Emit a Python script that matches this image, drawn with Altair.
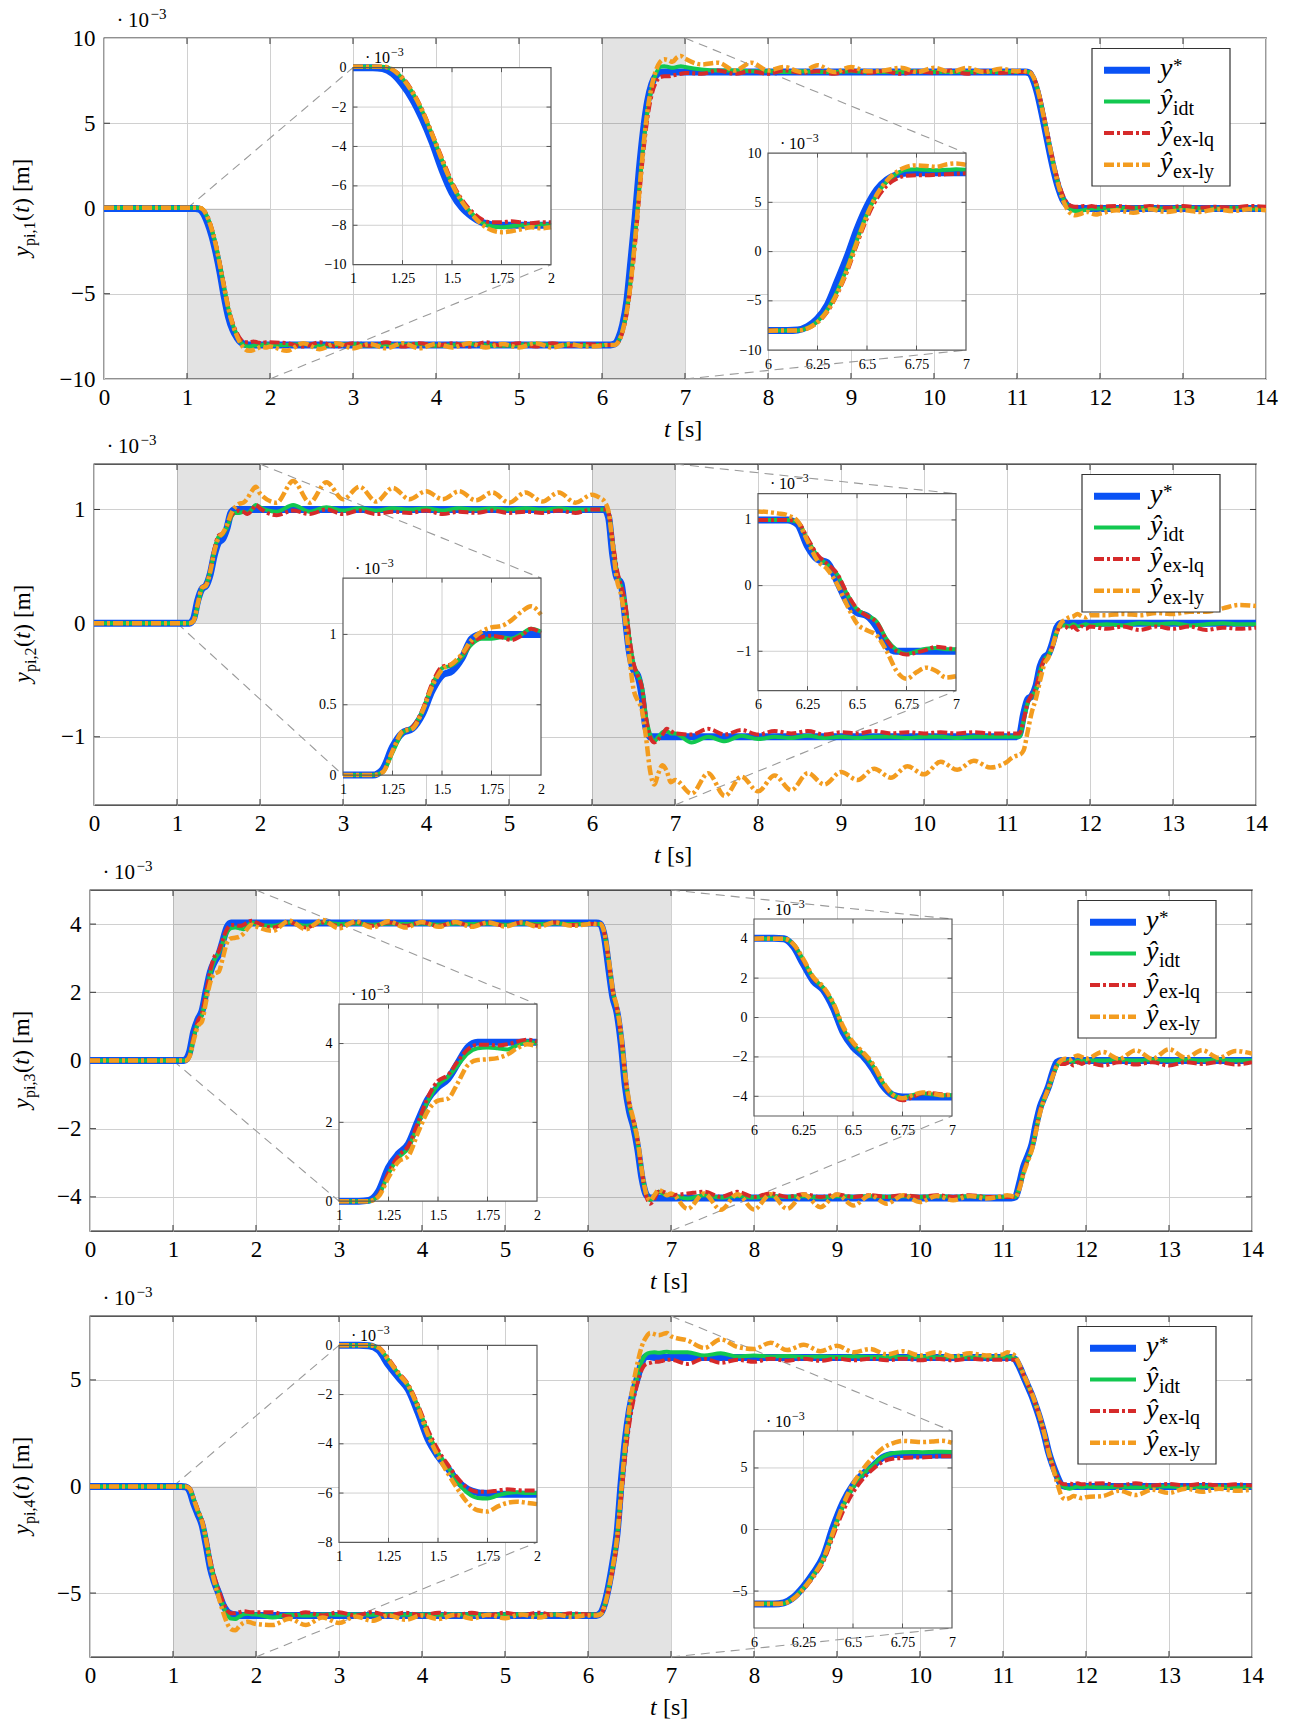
import altair as alt
import pandas as pd

W, H = 1162, 341
IW, IH = 198, 197
FONT = "Liberation Serif"
GRID = "#d0d0d0"
LABEL_EXPR = "format(datum.value, '~g')"
TICK_MAIN = 6.0   # inward tick length in px
TICK_INSET = 4.5

# ---------------- time grid (s) ----------------
T = [0.0, 0.5,
     1.0, 1.05, 1.1, 1.15, 1.2, 1.25, 1.3, 1.35, 1.4, 1.45, 1.5, 1.55, 1.6, 1.65, 1.7, 1.75, 1.8, 1.85, 1.9, 1.95, 2.0,
     2.2, 2.4, 2.6, 2.8, 3.0, 3.2, 3.4, 3.6, 3.8, 4.0, 4.2, 4.4, 4.6, 4.8, 5.0, 5.2, 5.4, 5.6, 5.8,
     6.0, 6.05, 6.1, 6.15, 6.2, 6.25, 6.3, 6.35, 6.4, 6.45, 6.5, 6.55, 6.6, 6.65, 6.7, 6.75, 6.8, 6.85, 6.9, 6.95, 7.0,
     7.2, 7.4, 7.6, 7.8, 8.0, 8.2, 8.4, 8.6, 8.8, 9.0, 9.2, 9.4, 9.6, 9.8, 10.0, 10.2, 10.4, 10.6, 10.8,
     11.0, 11.05, 11.1, 11.15, 11.2, 11.25, 11.3, 11.35, 11.4, 11.45, 11.5, 11.55, 11.6, 11.65, 11.7, 11.75, 11.8, 11.85, 11.9, 11.95, 12.0,
     12.2, 12.4, 12.6, 12.8, 13.0, 13.2, 13.4, 13.6, 13.8, 14.0]

# ---------------- panel 1 (x 1e-3) ----------------
P1_REF = ([0, 0] +
          [0, 0, 0, -0.05, -0.3, -0.85, -1.6, -2.6, -3.8, -5.2, -6.35, -7.1, -7.55, -7.85, -7.97, -8, -8, -8, -8, -8, -8] +
          [-8, -8, -8, -8, -8, -8, -8, -8, -8, -8, -8, -8, -8, -8, -8, -8, -8, -8, -8] +
          [-8, -8, -8, -7.95, -7.6, -6.8, -5.4, -3.0, -0.5, 2.3, 4.6, 6.3, 7.3, 7.8, 7.97, 8, 8, 8, 8, 8, 8] +
          [8, 8, 8, 8, 8, 8, 8, 8, 8, 8, 8, 8, 8, 8, 8, 8, 8, 8, 8] +
          [8, 8, 8, 7.95, 7.5, 6.7, 5.6, 4.4, 3.2, 2.1, 1.2, 0.55, 0.2, 0.05, 0, 0, 0, 0, 0, 0, 0] +
          [0, 0, 0, 0, 0, 0, 0, 0, 0, 0])
P1_IDT = ([0.05, 0.05] +
          [0.05, 0.05, 0.05, 0.05, -0.1, -0.55, -1.25, -2.2, -3.4, -4.7, -5.9, -6.8, -7.4, -7.85, -8.05, -8.1, -8.05, -8.0, -8.0, -7.95, -8.0] +
          [-8.0, -7.95, -8.05, -8.0, -7.95, -8.05, -8.0, -8.0, -7.95, -8.05, -8.0, -7.95, -8.0, -8.05, -8.0, -7.95, -8.0, -8.0, -8.0] +
          [-8, -8, -8, -8, -7.75, -7.1, -5.9, -4.0, -1.6, 1.2, 3.8, 5.8, 7.1, 7.9, 8.3, 8.35, 8.3, 8.25, 8.3, 8.35, 8.3] +
          [8.15, 8.1, 8.1, 8.05, 8.05, 8.0, 8.05, 8.0, 8.0, 8.05, 8.0, 8.0, 8.0, 8.05, 8.0, 8.0, 8.0, 8.0, 8.0] +
          [8, 8, 8, 8, 7.65, 6.95, 5.9, 4.7, 3.5, 2.35, 1.4, 0.65, 0.2, -0.05, -0.15, -0.15, -0.1, -0.05, 0, 0, 0] +
          [0, 0.05, 0, 0, 0.05, 0, 0, 0.05, 0, 0])
P1_LQ = ([0.05, 0.05] +
         [0.05, 0.05, 0.05, 0.05, -0.1, -0.5, -1.2, -2.15, -3.35, -4.6, -5.8, -6.7, -7.3, -7.7, -7.85, -7.85, -7.8, -7.85, -7.9, -7.85, -7.85] +
         [-7.9, -8.1, -7.85, -8.1, -7.9, -8.05, -7.85, -8.1, -7.9, -8.05, -7.9, -8.1, -7.85, -8.05, -7.9, -8.1, -7.9, -8.05, -7.95] +
         [-8, -8, -8, -8, -7.8, -7.2, -6.1, -4.3, -2.0, 0.8, 3.4, 5.4, 6.7, 7.4, 7.7, 7.75, 7.75, 7.8, 7.85, 7.9, 7.95] +
         [7.9, 8.1, 7.9, 8.05, 7.9, 8.1, 7.95, 8.05, 7.9, 8.1, 7.95, 8.05, 7.9, 8.05, 7.95, 8.1, 7.9, 8.05, 7.95] +
         [8, 8, 8, 8, 7.7, 7.0, 6.0, 4.8, 3.6, 2.45, 1.5, 0.8, 0.35, 0.15, 0.1, 0.1, 0.15, 0.1, 0.15, 0.1, 0.1] +
         [0.15, 0.05, 0.15, 0.05, 0.15, 0.05, 0.1, 0.05, 0.15, 0.1])
P1_LY = ([0.05, 0.05] +
         [0.05, 0.05, 0.05, 0.05, -0.1, -0.55, -1.25, -2.2, -3.4, -4.7, -5.9, -6.8, -7.45, -7.95, -8.25, -8.35, -8.3, -8.2, -8.1, -8.15, -8.1] +
         [-8.35, -7.9, -8.25, -7.9, -8.2, -7.95, -8.2, -7.9, -8.2, -7.95, -8.15, -7.9, -8.15, -7.95, -8.15, -7.9, -8.15, -7.95, -8.1] +
         [-8.05, -8, -8, -8, -7.8, -7.15, -6.0, -4.2, -1.8, 1.0, 3.7, 5.8, 7.2, 8.1, 8.6, 8.75, 8.7, 8.6, 8.85, 8.95, 8.8] +
         [8.45, 8.55, 8.1, 8.55, 8.1, 8.3, 8.0, 8.4, 8.0, 8.3, 8.05, 8.1, 8.25, 8.0, 8.25, 8.0, 8.25, 8.0, 8.2] +
         [8.05, 8.1, 8.05, 8.0, 7.7, 6.95, 5.9, 4.7, 3.5, 2.35, 1.35, 0.55, 0.0, -0.3, -0.4, -0.35, -0.25, -0.2, -0.3, -0.35, -0.3] +
         [-0.1, -0.25, -0.05, -0.2, -0.1, -0.2, -0.05, -0.15, -0.05, -0.1])

# ---------------- panel 2 ----------------
P2_REF = ([0, 0] +
          [0, 0, 0, 0, 0.04, 0.2, 0.3, 0.33, 0.43, 0.6, 0.71, 0.74, 0.83, 0.97, 1.0, 1.0, 1.0, 1.0, 1.0, 1.0, 1.0] +
          [1, 1, 1, 1, 1, 1, 1, 1, 1, 1, 1, 1, 1, 1, 1, 1, 1, 1, 1] +
          [1, 1, 1, 1, 0.93, 0.6, 0.4, 0.35, 0.06, -0.25, -0.41, -0.46, -0.63, -0.92, -1, -1, -1, -1, -1, -1, -1] +
          [-1, -1, -1, -1, -1, -1, -1, -1, -1, -1, -1, -1, -1, -1, -1, -1, -1, -1, -1] +
          [-1, -1, -1, -0.98, -0.8, -0.67, -0.64, -0.55, -0.38, -0.3, -0.27, -0.17, -0.04, 0, 0, 0, 0, 0, 0, 0, 0] +
          [0, 0, 0, 0, 0, 0, 0, 0, 0, 0])
P2_IDT = ([0, 0] +
          [0, 0, 0, 0, 0.02, 0.16, 0.3, 0.34, 0.45, 0.64, 0.76, 0.78, 0.84, 0.93, 0.97, 0.97, 0.98, 0.97, 1.0, 1.04, 1.02] +
          [0.98, 1.04, 0.98, 1.02, 0.99, 1.01, 0.99, 1.01, 1.0, 1.01, 0.99, 1.01, 1.0, 1.01, 1.0, 1.01, 1.0, 1.01, 1.0] +
          [1.0, 1.0, 1.0, 1.0, 0.97, 0.7, 0.45, 0.32, 0.17, -0.13, -0.36, -0.45, -0.55, -0.82, -0.98, -1.04, -1.0, -0.96, -0.95, -0.97, -0.97] +
          [-1.05, -1.0, -1.04, -0.99, -1.02, -1.0, -1.01, -0.99, -1.01, -1.0, -1.01, -1.0, -1.0, -1.01, -1.0, -1.0, -1.01, -1.0, -1.0] +
          [-1.0, -1.0, -1.0, -1.0, -0.86, -0.7, -0.64, -0.58, -0.42, -0.32, -0.28, -0.2, -0.07, -0.02, -0.02, -0.03, -0.01, -0.03, -0.02, -0.01, -0.02] +
          [-0.01, -0.02, 0.0, -0.01, 0.0, -0.02, -0.01, 0.0, -0.01, -0.01])
P2_LQ = ([0, 0] +
         [0, 0, 0, 0, 0.02, 0.17, 0.31, 0.34, 0.46, 0.65, 0.77, 0.79, 0.85, 0.94, 0.98, 0.99, 0.98, 0.96, 0.99, 1.04, 1.01] +
         [0.95, 0.99, 0.96, 1.0, 0.96, 0.99, 0.96, 0.98, 0.97, 0.99, 0.96, 0.98, 0.97, 0.99, 0.97, 0.98, 0.97, 0.99, 0.97] +
         [1.0, 1.0, 1.0, 1.0, 0.97, 0.72, 0.47, 0.33, 0.18, -0.12, -0.35, -0.46, -0.56, -0.83, -1.0, -1.05, -1.02, -0.98, -0.93, -0.95, -0.97] +
         [-0.98, -0.93, -0.98, -0.94, -0.98, -0.95, -0.97, -0.95, -0.98, -0.96, -0.97, -0.95, -0.97, -0.96, -0.97, -0.96, -0.97, -0.96, -0.97] +
         [-0.97, -0.97, -0.97, -0.97, -0.85, -0.7, -0.63, -0.57, -0.42, -0.32, -0.28, -0.2, -0.08, -0.03, -0.03, -0.05, -0.03, -0.06, -0.03, -0.05, -0.03] +
         [-0.05, -0.03, -0.06, -0.03, -0.05, -0.03, -0.06, -0.04, -0.05, -0.04])
P2_LY = ([0, 0] +
         [0, 0, 0, 0, 0.02, 0.17, 0.31, 0.33, 0.45, 0.63, 0.75, 0.79, 0.86, 0.96, 1.02, 1.05, 1.06, 1.1, 1.16, 1.2, 1.14] +
         [1.06, 1.25, 1.06, 1.24, 1.09, 1.2, 1.07, 1.19, 1.09, 1.16, 1.09, 1.16, 1.08, 1.15, 1.06, 1.15, 1.07, 1.15, 1.06] +
         [1.13, 1.12, 1.1, 1.07, 0.98, 0.68, 0.38, 0.25, 0.02, -0.3, -0.58, -0.68, -0.76, -1.0, -1.3, -1.42, -1.32, -1.25, -1.3, -1.4, -1.38] +
         [-1.5, -1.32, -1.52, -1.35, -1.48, -1.34, -1.47, -1.32, -1.42, -1.31, -1.38, -1.28, -1.36, -1.26, -1.33, -1.22, -1.29, -1.21, -1.27] +
         [-1.22, -1.19, -1.17, -1.16, -1.12, -0.95, -0.78, -0.66, -0.5, -0.36, -0.3, -0.2, -0.08, 0.0, 0.03, 0.05, 0.06, 0.08, 0.06, 0.05, 0.07] +
         [0.07, 0.08, 0.07, 0.09, 0.08, 0.1, 0.1, 0.13, 0.16, 0.15])

# ---------------- panel 3 ----------------
P3_REF = ([0, 0] +
          [0, 0, 0, 0.02, 0.25, 0.85, 1.2, 1.45, 2.05, 2.6, 2.9, 3.1, 3.5, 3.9, 4.03, 4.03, 4.03, 4.03, 4.03, 4.03, 4.03] +
          [4.03, 4.03, 4.03, 4.03, 4.03, 4.03, 4.03, 4.03, 4.03, 4.03, 4.03, 4.03, 4.03, 4.03, 4.03, 4.03, 4.03, 4.03, 4.03] +
          [4.03, 4.03, 4.03, 4.0, 3.6, 2.7, 1.85, 1.4, 0.5, -0.75, -1.5, -1.95, -2.6, -3.45, -3.93, -4.03, -4.03, -4.03, -4.03, -4.03, -4.03] +
          [-4.03, -4.03, -4.03, -4.03, -4.03, -4.03, -4.03, -4.03, -4.03, -4.03, -4.03, -4.03, -4.03, -4.03, -4.03, -4.03, -4.03, -4.03, -4.03] +
          [-4.03, -4.03, -4.03, -4.0, -3.6, -3.1, -2.8, -2.45, -1.85, -1.35, -1.05, -0.75, -0.35, -0.05, 0, 0, 0, 0, 0, 0, 0] +
          [0, 0, 0, 0, 0, 0, 0, 0, 0, 0])
P3_IDT = ([0, 0] +
          [0, 0, 0, 0, 0.15, 0.7, 1.1, 1.35, 1.95, 2.55, 2.95, 3.15, 3.45, 3.75, 3.88, 3.9, 3.88, 3.85, 3.95, 4.05, 4.0] +
          [3.95, 4.05, 3.95, 4.05, 4.0, 4.02, 3.98, 4.02, 4.0, 4.02, 3.98, 4.02, 4.0, 4.02, 3.98, 4.02, 4.0, 4.02, 4.0] +
          [4.0, 4.0, 4.0, 4.0, 3.7, 2.9, 2.0, 1.5, 0.7, -0.55, -1.35, -1.85, -2.45, -3.3, -3.9, -4.1, -3.95, -3.85, -3.9, -3.95, -3.95] +
          [-4.05, -3.95, -4.02, -3.97, -4.02, -3.97, -4.0, -3.98, -4.02, -3.98, -4.0, -3.98, -4.0, -3.98, -4.0, -3.98, -4.0, -3.98, -4.0] +
          [-4.0, -4.0, -4.0, -4.0, -3.7, -3.25, -2.9, -2.55, -2.0, -1.45, -1.1, -0.8, -0.45, -0.15, -0.05, -0.05, 0.0, -0.05, 0.0, -0.02, 0.0] +
          [0, 0.02, 0, 0.02, 0, 0.02, 0, 0.02, 0, 0])
P3_LQ = ([0, 0] +
         [0, 0, 0, 0, 0.15, 0.72, 1.15, 1.4, 2.0, 2.65, 3.05, 3.2, 3.55, 3.85, 3.97, 3.97, 3.95, 3.98, 4.05, 4.1, 4.05] +
         [3.9, 4.05, 3.9, 4.05, 3.95, 4.05, 3.95, 4.05, 3.95, 4.05, 3.95, 4.05, 3.95, 4.05, 3.95, 4.05, 3.95, 4.05, 3.97] +
         [4.0, 4.0, 4.0, 4.0, 3.7, 2.9, 2.0, 1.5, 0.7, -0.5, -1.3, -1.8, -2.4, -3.3, -3.95, -4.2, -4.05, -3.85, -3.85, -3.9, -3.95] +
         [-3.9, -3.85, -4.0, -3.85, -4.0, -3.9, -4.0, -3.92, -4.0, -3.93, -4.0, -3.95, -4.0, -3.95, -4.0, -3.95, -4.0, -3.95, -4.0] +
         [-4.0, -4.0, -4.0, -4.0, -3.7, -3.25, -2.9, -2.55, -2.0, -1.45, -1.1, -0.8, -0.45, -0.15, -0.1, -0.1, -0.05, -0.15, -0.05, -0.1, -0.05] +
         [-0.15, -0.05, -0.12, -0.05, -0.15, -0.05, -0.1, -0.05, -0.12, -0.05])
P3_LY = ([0, 0] +
         [0, 0, 0, 0, 0.12, 0.6, 1.0, 1.15, 1.75, 2.3, 2.55, 2.6, 3.0, 3.45, 3.58, 3.6, 3.63, 3.72, 3.88, 3.98, 3.93] +
         [3.8, 4.1, 3.85, 4.12, 3.88, 4.08, 3.9, 4.08, 3.9, 4.06, 3.92, 4.06, 3.92, 4.05, 3.93, 4.05, 3.92, 4.05, 3.95] +
         [4.0, 4.02, 4.0, 4.0, 3.72, 2.95, 2.05, 1.55, 0.75, -0.45, -1.25, -1.75, -2.35, -3.25, -3.9, -4.1, -3.95, -3.8, -3.85, -3.95, -3.9] +
         [-4.35, -3.9, -4.38, -3.92, -4.37, -3.92, -4.35, -3.93, -4.3, -3.93, -4.25, -3.95, -4.2, -3.95, -4.15, -3.97, -4.1, -3.97, -4.05] +
         [-3.97, -3.95, -3.97, -4.0, -3.75, -3.3, -2.95, -2.6, -2.05, -1.5, -1.12, -0.8, -0.45, -0.15, 0.0, 0.05, 0.02, 0.1, 0.15, 0.1, 0.05] +
         [0.25, 0.05, 0.3, 0.05, 0.33, 0.08, 0.3, 0.08, 0.28, 0.2])

# ---------------- panel 4 ----------------
P4_REF = ([0, 0] +
          [0, 0, 0, -0.02, -0.2, -0.8, -1.3, -1.8, -2.75, -3.82, -4.5, -5.0, -5.53, -5.85, -5.98, -6.02, -6.05, -6.05, -6.05, -6.05, -6.05] +
          [-6.05, -6.05, -6.05, -6.05, -6.05, -6.05, -6.05, -6.05, -6.05, -6.05, -6.05, -6.05, -6.05, -6.05, -6.05, -6.05, -6.05, -6.05, -6.05] +
          [-6.05, -6.05, -6.05, -5.95, -5.5, -4.65, -3.55, -2.2, 0.2, 2.2, 3.6, 4.5, 5.15, 5.85, 6.1, 6.1, 6.05, 6.05, 6.05, 6.05, 6.05] +
          [6.05, 6.05, 6.05, 6.05, 6.05, 6.05, 6.05, 6.05, 6.05, 6.05, 6.05, 6.05, 6.05, 6.05, 6.05, 6.05, 6.05, 6.05, 6.05] +
          [6.05, 6.05, 6.05, 5.95, 5.6, 5.15, 4.7, 4.25, 3.7, 3.1, 2.4, 1.6, 1.0, 0.5, 0.1, 0, 0, 0, 0, 0, 0] +
          [0, 0, 0, 0, 0, 0, 0, 0, 0, 0])
P4_IDT = ([0, 0] +
          [0, 0, 0, 0, -0.1, -0.6, -1.15, -1.65, -2.5, -3.55, -4.35, -4.95, -5.55, -6.0, -6.2, -6.22, -6.1, -6.0, -5.97, -6.0, -6.0] +
          [-6.15, -6.0, -6.05, -6.0, -6.02, -6.0, -6.02, -6.0, -6.02, -6.0, -6.02, -6.0, -6.0, -6.02, -6.0, -6.0, -6.02, -6.0, -6.0] +
          [-6.0, -6.0, -6.0, -6.0, -5.55, -4.75, -3.7, -2.4, -0.2, 1.9, 3.4, 4.45, 5.2, 5.9, 6.2, 6.28, 6.3, 6.28, 6.3, 6.32, 6.3] +
          [6.3, 6.15, 6.25, 6.1, 6.15, 6.1, 6.12, 6.08, 6.1, 6.08, 6.1, 6.08, 6.08, 6.07, 6.08, 6.07, 6.07, 6.07, 6.07] +
          [6.07, 6.07, 6.07, 6.0, 5.65, 5.2, 4.75, 4.3, 3.75, 3.15, 2.45, 1.65, 1.0, 0.45, 0.1, -0.05, -0.1, -0.05, 0.0, -0.05, 0.0] +
          [-0.05, 0.0, -0.05, 0.0, 0.0, -0.05, 0.0, 0.0, -0.05, 0.0])
P4_LQ = ([0, 0] +
         [0, 0, 0, 0, -0.08, -0.55, -1.1, -1.6, -2.45, -3.45, -4.25, -4.85, -5.4, -5.8, -5.95, -5.95, -5.9, -5.85, -5.88, -5.9, -5.9] +
         [-5.9, -6.1, -5.9, -6.05, -5.9, -6.05, -5.9, -6.05, -5.92, -6.05, -5.92, -6.05, -5.92, -6.05, -5.92, -6.05, -5.92, -6.05, -5.95] +
         [-6.0, -6.0, -6.0, -6.0, -5.6, -4.85, -3.85, -2.6, -0.5, 1.5, 3.0, 4.1, 4.9, 5.5, 5.75, 5.8, 5.85, 5.85, 5.9, 5.95, 5.95] +
         [5.75, 6.0, 5.8, 5.95, 5.85, 6.0, 5.9, 6.0, 5.9, 6.0, 5.92, 6.0, 5.92, 6.0, 5.92, 6.0, 5.92, 6.0, 5.95] +
         [5.95, 5.95, 5.95, 5.95, 5.65, 5.2, 4.75, 4.3, 3.75, 3.15, 2.45, 1.65, 1.0, 0.5, 0.15, 0.1, 0.15, 0.1, 0.15, 0.1, 0.12] +
         [0.15, 0.05, 0.15, 0.05, 0.12, 0.05, 0.12, 0.05, 0.1, 0.05])
P4_LY = ([0, 0] +
         [0, 0, 0, 0, -0.1, -0.6, -1.15, -1.65, -2.55, -3.65, -4.5, -5.2, -5.85, -6.4, -6.7, -6.75, -6.55, -6.4, -6.35, -6.4, -6.45] +
         [-6.5, -6.2, -6.5, -6.15, -6.4, -6.1, -6.3, -6.05, -6.25, -6.05, -6.22, -6.02, -6.2, -6.02, -6.18, -6.0, -6.15, -6.0, -6.12] +
         [-6.05, -6.05, -6.05, -6.0, -5.6, -4.8, -3.75, -2.4, -0.2, 2.0, 3.7, 4.9, 5.85, 6.6, 7.0, 7.2, 7.15, 7.1, 7.15, 7.2, 7.05] +
         [6.85, 6.5, 6.9, 6.55, 6.45, 6.75, 6.4, 6.65, 6.35, 6.6, 6.3, 6.45, 6.2, 6.35, 6.15, 6.3, 6.1, 6.25, 6.15] +
         [6.2, 6.3, 6.25, 6.1, 5.7, 5.25, 4.8, 4.35, 3.8, 3.2, 2.45, 1.6, 0.9, 0.2, -0.4, -0.6, -0.55, -0.45, -0.5, -0.55, -0.5] +
         [-0.45, -0.2, -0.4, -0.15, -0.3, -0.1, -0.25, -0.1, -0.2, -0.15])

for _n, _s in [("P1_REF", P1_REF), ("P1_IDT", P1_IDT), ("P1_LQ", P1_LQ), ("P1_LY", P1_LY),
               ("P2_REF", P2_REF), ("P2_IDT", P2_IDT), ("P2_LQ", P2_LQ), ("P2_LY", P2_LY),
               ("P3_REF", P3_REF), ("P3_IDT", P3_IDT), ("P3_LQ", P3_LQ), ("P3_LY", P3_LY),
               ("P4_REF", P4_REF), ("P4_IDT", P4_IDT), ("P4_LQ", P4_LQ), ("P4_LY", P4_LY)]:
    assert len(_s) == len(T), (_n, len(_s), len(T))

XTICKS = list(range(0, 15))
INSET_X1 = [1, 1.25, 1.5, 1.75, 2]
INSET_X2 = [6, 6.25, 6.5, 6.75, 7]

STYLES = [
    {"color": "#0a52f5", "width": 7.0, "dash": None},
    {"color": "#12c850", "width": 4.0, "dash": None},
    {"color": "#d62a2a", "width": 4.0, "dash": [10, 3, 3, 3]},
    {"color": "#f39c1f", "width": 4.5, "dash": [10, 3, 3, 3]},
]
LEG_MAIN = ["y", "\u0177", "\u0177", "\u0177"]
LEG_SUB = ["*", "idt", "ex-lq", "ex-ly"]

PANELS = [
    dict(sub="pi,1", ydom=(-10, 10), yticks=[-10, -5, 0, 5, 10], title_x=-75,
         shades=[(1, 2, -10, 0), (6, 7, -10, 10)],
         series=[P1_REF, P1_IDT, P1_LQ, P1_LY],
         insets=[dict(t0=3.0, vtop=8.26, xdom=(1, 2), ydom=(-10, 0), xticks=INSET_X1,
                      yticks=[-10, -8, -6, -4, -2, 0], links=[((1, 0), "tl"), ((2, -10), "br")]),
                 dict(t0=8.0, vtop=3.25, xdom=(6, 7), ydom=(-10, 10), xticks=INSET_X2,
                      yticks=[-10, -5, 0, 5, 10], links=[((7, 10), "tr"), ((7, -10), "br")])]),
    dict(sub="pi,2", ydom=(-1.6, 1.4), yticks=[-1, 0, 1], title_x=-64.5,
         shades=[(1, 2, 0, 1.4), (6, 7, -1.6, 1.4)],
         series=[P2_REF, P2_IDT, P2_LQ, P2_LY],
         insets=[dict(t0=3.0, vtop=0.396, xdom=(1, 2), ydom=(0, 1.4), xticks=INSET_X1,
                      yticks=[0, 0.5, 1], links=[((2, 1.4), "tr"), ((1, 0), "bl")]),
                 dict(t0=8.0, vtop=1.139, xdom=(6, 7), ydom=(-1.6, 1.4), xticks=INSET_X2,
                      yticks=[-1, 0, 1], links=[((7, 1.4), "tr"), ((7, -1.6), "br")])]),
    dict(sub="pi,3", ydom=(-5, 5), yticks=[-4, -2, 0, 2, 4], title_x=-61.2,
         shades=[(1, 2, 0, 5), (6, 7, -5, 5)],
         series=[P3_REF, P3_IDT, P3_LQ, P3_LY],
         insets=[dict(t0=3.0, vtop=1.653, xdom=(1, 2), ydom=(0, 5), xticks=INSET_X1,
                      yticks=[0, 2, 4], links=[((2, 5), "tr"), ((1, 0), "bl")]),
                 dict(t0=8.0, vtop=4.149, xdom=(6, 7), ydom=(-5, 5), xticks=INSET_X2,
                      yticks=[-4, -2, 0, 2, 4], links=[((7, 5), "tr"), ((7, -5), "br")])]),
    dict(sub="pi,4", ydom=(-8, 8), yticks=[-5, 0, 5], title_x=-61.2,
         shades=[(1, 2, -8, 0), (6, 7, -8, 8)],
         series=[P4_REF, P4_IDT, P4_LQ, P4_LY],
         insets=[dict(t0=3.0, vtop=6.625, xdom=(1, 2), ydom=(-8, 0), xticks=INSET_X1,
                      yticks=[-8, -6, -4, -2, 0], links=[((1, 0), "tl"), ((2, -8), "br")]),
                 dict(t0=8.0, vtop=2.603, xdom=(6, 7), ydom=(-8, 8), xticks=INSET_X2,
                      yticks=[-5, 0, 5], links=[((7, 8), "tr"), ((7, -8), "br")])]),
]

# legend geometry (pixels inside the plot area)
LEG_BOX = (988, 1126, 10.5, 148)
LEG_LINE = (1000, 1046)
LEG_ROWS = [32.3, 63.5, 95.0, 126.7]
LEG_TX = 1056


def series_layers(series, xsc, ysc, tmin=None, tmax=None, clip=False):
    out = []
    for vals, st in zip(series, STYLES):
        df = pd.DataFrame({"t": T, "v": vals})
        if tmin is not None:
            df = df[(df["t"] >= tmin - 1e-9) & (df["t"] <= tmax + 1e-9)]
        kw = dict(color=st["color"], strokeWidth=st["width"], interpolate="monotone", clip=clip)
        if st["dash"]:
            kw["strokeDash"] = st["dash"]
            kw["strokeCap"] = "butt"
        else:
            kw["strokeJoin"] = "round"
        out.append(alt.Chart(df).mark_line(**kw).encode(
            x=alt.X("t:Q", scale=xsc, axis=None),
            y=alt.Y("v:Q", scale=ysc, axis=None)))
    return out


def tick_layer(xdom, ydom, xticks, yticks, pxw, pxh, length, xsc, ysc, color):
    # short inward tick marks on all four sides (pgfplots style)
    x0, x1 = xdom
    y0, y1 = ydom
    dy = length / pxh * (y1 - y0)
    dx = length / pxw * (x1 - x0)
    rows = []
    for t in xticks:
        rows.append({"a": t, "b": t, "c": y0, "d": y0 + dy})
        rows.append({"a": t, "b": t, "c": y1 - dy, "d": y1})
    for v in yticks:
        rows.append({"a": x0, "b": x0 + dx, "c": v, "d": v})
        rows.append({"a": x1 - dx, "b": x1, "c": v, "d": v})
    return alt.Chart(pd.DataFrame(rows)).mark_rule(color=color, strokeWidth=1).encode(
        x=alt.X("a:Q", scale=xsc, axis=None), x2="b",
        y=alt.Y("c:Q", scale=ysc, axis=None), y2="d")


def inset_px(p, ins):
    y0, y1 = p["ydom"]
    px0 = ins["t0"] / 14.0 * W
    pyt = (y1 - ins["vtop"]) / (y1 - y0) * H
    return px0, px0 + IW, pyt, pyt + IH


def inset_corner(p, ins, c):
    y0, y1 = p["ydom"]
    t1 = ins["t0"] + IW / W * 14.0
    vb = ins["vtop"] - IH / H * (y1 - y0)
    return {"tl": (ins["t0"], ins["vtop"]), "tr": (t1, ins["vtop"]),
            "bl": (ins["t0"], vb), "br": (t1, vb)}[c]


def text_layer(rows, italic=False, angle=0):
    df = pd.DataFrame(rows, columns=["txt", "px", "py", "fs"])
    return alt.Chart(df).mark_text(
        font=FONT, fontStyle="italic" if italic else "normal", align="left",
        baseline="alphabetic", angle=angle, color="black").encode(
        x=alt.X("px:Q", scale=None, axis=None),
        y=alt.Y("py:Q", scale=None, axis=None),
        text="txt:N",
        size=alt.Size("fs:Q", scale=None, legend=None))


def main_layers(p):
    y0, y1 = p["ydom"]
    xsc = alt.Scale(domain=[0, 14], range=[0, W], nice=False, zero=False)
    ysc = alt.Scale(domain=[y0, y1], range=[H, 0], nice=False, zero=False)
    shade_df = pd.DataFrame(p["shades"], columns=["a", "b", "c", "d"])
    shade = alt.Chart(shade_df).mark_rect(fill="black", fillOpacity=0.11, strokeOpacity=0).encode(
        x=alt.X("a:Q", scale=xsc, axis=alt.Axis(orient="bottom", values=XTICKS, grid=True, title=None,
                                               labelExpr=LABEL_EXPR, labelFontSize=23, labelPadding=7)),
        x2="b",
        y=alt.Y("c:Q", scale=ysc, axis=alt.Axis(orient="left", values=p["yticks"], grid=True, title=None,
                                               labelExpr=LABEL_EXPR, labelFontSize=23, labelPadding=9)),
        y2="d")
    ticks = tick_layer((0, 14), (y0, y1), XTICKS[1:-1], [v for v in p["yticks"] if y0 < v < y1],
                       W, H, TICK_MAIN, xsc, ysc, "#333333")
    rows = []
    for ins in p["insets"]:
        for pt, c in ins["links"]:
            q = inset_corner(p, ins, c)
            rows.append({"a": pt[0], "c": pt[1], "b": q[0], "d": q[1]})
    conn = alt.Chart(pd.DataFrame(rows)).mark_rule(color="#9a9a9a", strokeDash=[9, 6], strokeWidth=1.1).encode(
        x=alt.X("a:Q", scale=xsc, axis=None), y=alt.Y("c:Q", scale=ysc, axis=None), x2="b", y2="d")
    return [shade, ticks, conn] + series_layers(p["series"], xsc, ysc, clip=True)


def inset_layers(p, ins):
    px0, px1, pyt, pyb = inset_px(p, ins)
    a0, a1 = ins["xdom"]
    b0, b1 = ins["ydom"]
    xsc = alt.Scale(domain=[a0, a1], range=[px0, px1], nice=False, zero=False)
    ysc = alt.Scale(domain=[b0, b1], range=[pyb, pyt], nice=False, zero=False)
    box = pd.DataFrame({"a": [a0], "b": [a1], "c": [b0], "d": [b1]})
    bg = alt.Chart(box).mark_rect(fill="white", strokeOpacity=0).encode(
        x=alt.X("a:Q", scale=xsc, axis=alt.Axis(orient="bottom", offset=-(H - pyb), values=ins["xticks"],
                                               grid=False, title=None, labelExpr=LABEL_EXPR, labelFontSize=14,
                                               labelPadding=7)),
        x2="b",
        y=alt.Y("c:Q", scale=ysc, axis=alt.Axis(orient="left", offset=-px0, values=ins["yticks"],
                                               grid=False, title=None, labelExpr=LABEL_EXPR, labelFontSize=14,
                                               labelPadding=7)),
        y2="d")
    vg = pd.DataFrame({"g": [v for v in ins["xticks"] if a0 < v < a1]})
    vg["lo"] = b0
    vg["hi"] = b1
    vgrid = alt.Chart(vg).mark_rule(color=GRID, strokeWidth=1).encode(
        x=alt.X("g:Q", scale=xsc, axis=None), y=alt.Y("lo:Q", scale=ysc, axis=None), y2="hi")
    hg = pd.DataFrame({"g": [v for v in ins["yticks"] if b0 < v < b1]})
    hg["lo"] = a0
    hg["hi"] = a1
    hgrid = alt.Chart(hg).mark_rule(color=GRID, strokeWidth=1).encode(
        y=alt.Y("g:Q", scale=ysc, axis=None), x=alt.X("lo:Q", scale=xsc, axis=None), x2="hi")
    ticks = tick_layer((a0, a1), (b0, b1), [v for v in ins["xticks"] if a0 < v < a1],
                       [v for v in ins["yticks"] if b0 < v < b1], IW, IH, TICK_INSET, xsc, ysc, "#555555")
    lines = series_layers(p["series"], xsc, ysc, a0, a1, clip=False)
    frame = alt.Chart(box).mark_rect(fillOpacity=0, stroke="#5a5a5a", strokeWidth=1.2).encode(
        x=alt.X("a:Q", scale=xsc, axis=None), x2="b", y=alt.Y("c:Q", scale=ysc, axis=None), y2="d")
    return [bg, vgrid, hgrid, ticks] + lines + [frame]


def annot_layers(p):
    b = p["title_x"]
    cx = W / 2.0
    roman = [("\u00b7", 12.5, -11, 21), ("10", 24, -11, 21), ("\u22123", 46.5, -19.5, 15),
             ("[s]", cx - 8, H + 58, 24)]
    italic = [("t", cx - 21, H + 58, 24)]
    for ins in p["insets"]:
        px0, px1, pyt, pyb = inset_px(p, ins)
        roman += [("\u00b7", px0 + 12, pyt - 4.5, 16), ("10", px0 + 21, pyt - 4.5, 16),
                  ("\u22123", px0 + 38, pyt - 11.5, 12)]
    for i, ry in enumerate(LEG_ROWS):
        italic.append((LEG_MAIN[i], LEG_TX, ry + 6.5, 28))
        if i == 0:
            roman.append((LEG_SUB[i], LEG_TX + 13, ry + 2, 19))
        else:
            roman.append((LEG_SUB[i], LEG_TX + 13, ry + 13, 20))
    rot_italic = [("y", b, H / 2 + 48, 23), ("t", b, H / 2 + 4.3, 23)]
    rot_roman = [(p["sub"], b + 6, H / 2 + 37.5, 16), ("(", b, H / 2 + 12.5, 23),
                 (")", b, H / 2 - 2.8, 23), ("[m]", b, H / 2 - 16.5, 23)]

    x0, x1, yb0, yb1 = LEG_BOX
    legbox = alt.Chart(pd.DataFrame({"a": [x0], "b": [x1], "c": [yb0], "d": [yb1]})).mark_rect(
        fill="white", stroke="#333333", strokeWidth=1.2).encode(
        x=alt.X("a:Q", scale=None, axis=None), x2="b", y=alt.Y("c:Q", scale=None, axis=None), y2="d")
    samples = []
    for ry, st in zip(LEG_ROWS, STYLES):
        kw = dict(color=st["color"], strokeWidth=st["width"])
        if st["dash"]:
            kw["strokeDash"] = st["dash"]
            kw["strokeCap"] = "butt"
        samples.append(alt.Chart(pd.DataFrame({"a": [LEG_LINE[0]], "b": [LEG_LINE[1]], "c": [ry]})).mark_rule(**kw).encode(
            x=alt.X("a:Q", scale=None, axis=None), x2="b", y=alt.Y("c:Q", scale=None, axis=None)))
    return [legbox] + samples + [text_layer(roman), text_layer(italic, italic=True),
                                 text_layer(rot_roman, angle=270), text_layer(rot_italic, italic=True, angle=270)]


def build_row(p):
    layers = (main_layers(p) + inset_layers(p, p["insets"][0]) + inset_layers(p, p["insets"][1])
              + annot_layers(p))
    panel = alt.layer(*layers).resolve_scale(x="independent", y="independent").properties(width=W, height=H)
    spacer = alt.Chart(pd.DataFrame({"a": [0]})).mark_rule(strokeOpacity=0).encode(
        x=alt.value(0), y=alt.value(0), y2=alt.value(1)).properties(
        width=1, height=1, view=alt.ViewBackground(strokeOpacity=0))
    return alt.hconcat(spacer, panel, spacing=0)


rows = [build_row(p) for p in PANELS]
chart = alt.vconcat(*rows, spacing=-12).properties(
    padding={"left": 9, "top": 5, "right": 5, "bottom": 0}, background="white"
).configure_view(stroke="#222222", strokeWidth=1.3).configure_axis(
    labelFont=FONT, labelColor="black", domain=False, ticks=False, gridColor=GRID, gridWidth=1,
    labelFlush=False, labelOverlap=False)

chart.save("out.html", embed_options={"renderer": "svg", "actions": False})
